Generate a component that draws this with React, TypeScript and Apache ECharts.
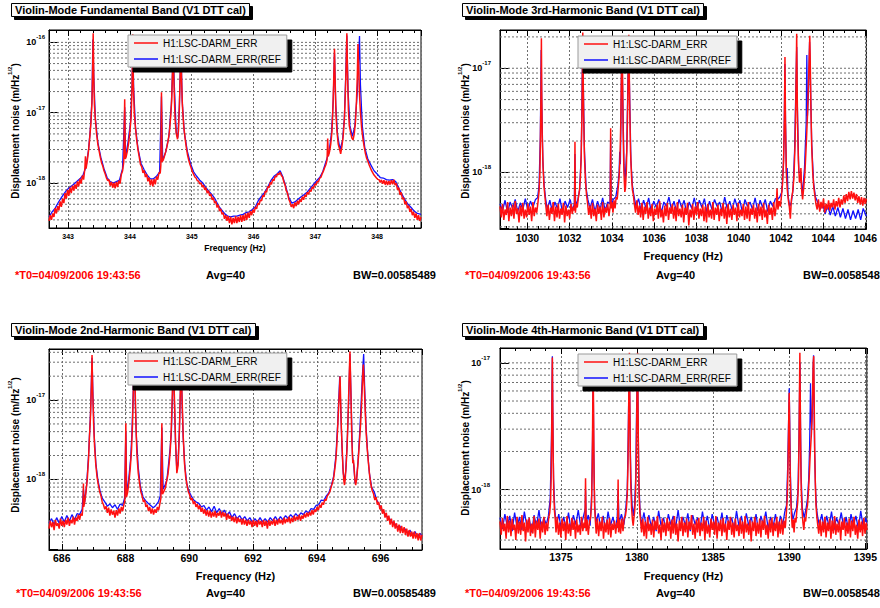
import React, { useEffect, useRef } from 'react';
import * as echarts from 'echarts';

// ---------------- data ----------------
const RED_NAME = 'H1:LSC-DARM_ERR';
const REF_NAME = 'H1:LSC-DARM_ERR(REF0)';

const TITLES = [
  'Violin-Mode Fundamental Band (V1 DTT cal)',
  'Violin-Mode 3rd-Harmonic Band (V1 DTT cal)',
  'Violin-Mode 2nd-Harmonic Band (V1 DTT cal)',
  'Violin-Mode 4th-Harmonic Band (V1 DTT cal)',
];
const X_NAME = 'Frequency (Hz)';
const Y_NAME = 'Displacement noise (m/Hz';
const Y_NAME_EXP = '1/2';
const T0_TEXT = '*T0=04/09/2006 19:43:56';
const AVG_TEXT = 'Avg=40';
const BW_TEXT = 'BW=0.00585489';

const FREQ_RANGES = [[342.69, 348.71], [1028.7, 1046.05], [685.6, 697.3], [1371.0, 1395.1]];
const NOISE_RANGES = [[2.3e-19, 1.5e-16], [2.86e-19, 2.33e-17], [1.29e-19, 4.4e-17], [3.4e-19, 1.31e-17]];
const MAJOR_STEPS = [1, 2, 2, 5];
// spectral values below are given in units of 1e-20 m/Hz^1/2
const VALUE_UNIT = 1e-20;

// Fundamental band (top-left)
const FUND_RED = [
  [342.69,29],[342.71,35],[342.73,30],[342.75,37],[342.77,33],[342.79,44],[342.81,37],[342.83,47],[342.85,41],[342.87,55],[342.89,46],[342.91,60],[342.93,52],[342.95,72],[342.97,60],[342.99,80],[343.01,66],[343.03,86],[343.05,72],[343.07,92],[343.09,78],[343.11,96],[343.13,83],[343.15,106],[343.17,90],[343.19,115],[343.21,98],[343.23,128],[343.25,112],[343.27,160],[343.28,240],[343.29,160],[343.31,210],[343.33,290],[343.35,450],[343.37,750],[343.385,1400],[343.395,3500],[343.405,13500],[343.415,3000],[343.425,1300],[343.44,800],[343.46,500],[343.48,360],[343.50,290],[343.52,235],[343.54,195],[343.56,175],[343.58,150],[343.60,135],[343.62,118],[343.64,108],[343.66,112],[343.68,92],[343.70,104],[343.72,86],[343.74,101],[343.76,84],[343.78,104],[343.80,88],[343.82,108],[343.84,98],[343.86,132],[343.88,148],[343.90,200],[343.915,1550],[343.925,220],[343.94,240],[343.96,290],[343.98,380],[344.00,550],[344.02,900],[344.035,2500],[344.045,13000],[344.055,2500],[344.07,1000],[344.09,600],[344.11,400],[344.13,300],[344.15,235],[344.17,185],[344.19,172],[344.21,140],[344.23,152],[344.25,122],[344.27,134],[344.29,106],[344.31,120],[344.33,93],[344.35,113],[344.37,90],[344.39,114],[344.41,96],[344.43,124],[344.45,112],[344.47,140],[344.49,138],[344.50,180],[344.51,1950],[344.52,200],[344.54,215],[344.56,245],[344.58,280],[344.60,335],[344.62,410],[344.64,550],[344.66,900],[344.675,1500],[344.69,4000],[344.70,8000],[344.71,3000],[344.73,800],[344.75,500],[344.77,420],[344.785,550],[344.80,1200],[344.815,4000],[344.825,10000],[344.835,3000],[344.85,1200],[344.87,650],[344.89,450],[344.91,330],[344.93,255],[344.95,215],[344.97,185],[344.99,165],[345.01,145],[345.03,134],[345.05,122],[345.07,118],[345.09,108],[345.11,107],[345.13,97],[345.15,101],[345.17,88],[345.19,93],[345.21,80],[345.23,86],[345.25,72],[345.27,78],[345.29,66],[345.31,70],[345.33,58],[345.35,62],[345.37,52],[345.39,55],[345.41,45],[345.43,49],[345.45,40],[345.47,43],[345.49,36],[345.51,38],[345.53,31],[345.55,35],[345.57,29],[345.59,34],[345.61,27],[345.63,33],[345.65,26],[345.67,32],[345.69,27],[345.71,34],[345.73,27],[345.75,33],[345.77,28],[345.79,35],[345.81,28],[345.83,35],[345.85,29],[345.87,37],[345.89,30],[345.91,38],[345.93,32],[345.95,40],[345.97,35],[345.99,42],[346.01,38],[346.03,46],[346.05,43],[346.07,52],[346.09,49],[346.11,58],[346.13,56],[346.15,67],[346.17,64],[346.19,77],[346.21,74],[346.23,89],[346.25,86],[346.27,102],[346.29,96],[346.31,113],[346.33,108],[346.35,126],[346.37,122],[346.39,137],[346.41,132],[346.43,143],[346.45,128],[346.47,122],[346.49,104],[346.51,94],[346.53,78],[346.55,72],[346.57,59],[346.59,54],[346.61,46],[346.63,50],[346.65,44],[346.67,53],[346.69,47],[346.71,56],[346.73,50],[346.75,59],[346.77,54],[346.79,64],[346.81,58],[346.83,68],[346.85,64],[346.87,74],[346.89,69],[346.91,80],[346.93,76],[346.95,88],[346.97,84],[346.99,97],[347.01,93],[347.03,106],[347.05,104],[347.07,118],[347.09,121],[347.11,135],[347.13,148],[347.15,165],[347.17,182],[347.19,215],[347.20,430],[347.21,240],[347.23,280],[347.25,360],[347.27,550],[347.285,1200],[347.30,3500],[347.31,8100],[347.32,3000],[347.335,900],[347.35,550],[347.37,360],[347.39,310],[347.41,260],[347.43,330],[347.45,460],[347.47,800],[347.485,1800],[347.50,5000],[347.51,13500],[347.52,4000],[347.535,1100],[347.55,650],[347.57,530],[347.59,440],[347.61,410],[347.63,500],[347.65,750],[347.665,1400],[347.68,3500],[347.69,9500],[347.70,5000],[347.715,1800],[347.73,1000],[347.75,600],[347.77,430],[347.79,330],[347.81,265],[347.83,225],[347.85,205],[347.87,182],[347.89,165],[347.91,150],[347.93,140],[347.95,130],[347.97,124],[347.99,118],[348.01,113],[348.03,112],[348.05,102],[348.07,111],[348.09,98],[348.11,110],[348.13,95],[348.15,108],[348.17,94],[348.19,107],[348.21,95],[348.23,110],[348.25,96],[348.27,112],[348.29,94],[348.31,99],[348.33,80],[348.35,86],[348.37,68],[348.39,74],[348.41,59],[348.43,62],[348.45,50],[348.47,55],[348.49,44],[348.51,48],[348.53,39],[348.55,43],[348.57,35],[348.59,39],[348.61,32],[348.63,37],[348.65,30],[348.67,35],[348.69,29],[348.71,33],
];
const FUND_REF = [
  [342.69,33],[342.74,39],[342.79,44],[342.84,53],[342.89,62],[342.94,72],[342.99,82],[343.04,89],[343.09,96],[343.14,105],[343.19,115],[343.24,130],[343.29,170],[343.33,300],[343.36,600],[343.385,1500],[343.40,11000],[343.415,3200],[343.44,850],[343.48,380],[343.53,230],[343.58,160],[343.63,120],[343.68,105],[343.73,100],[343.78,105],[343.83,110],[343.88,160],[343.915,1200],[343.93,230],[343.97,390],[344.01,750],[344.035,2600],[344.045,12000],[344.06,2200],[344.09,620],[344.13,310],[344.18,190],[344.23,155],[344.28,130],[344.33,115],[344.38,115],[344.43,125],[344.48,145],[344.51,1700],[344.53,210],[344.58,280],[344.63,460],[344.67,1300],[344.70,7500],[344.72,2200],[344.75,520],[344.775,440],[344.80,1300],[344.825,9500],[344.845,1500],[344.88,520],[344.93,280],[344.98,190],[345.03,145],[345.08,125],[345.13,110],[345.18,100],[345.23,86],[345.28,76],[345.33,68],[345.38,59],[345.43,48],[345.48,42],[345.53,37],[345.58,34],[345.63,33],[345.68,34],[345.73,34],[345.78,35],[345.83,36],[345.88,38],[345.93,39],[345.98,42],[346.03,46],[346.08,57],[346.13,65],[346.18,74],[346.23,88],[346.28,108],[346.33,125],[346.38,135],[346.43,150],[346.47,125],[346.52,90],[346.57,63],[346.62,52],[346.67,54],[346.72,59],[346.77,64],[346.82,69],[346.87,75],[346.92,85],[346.97,96],[347.02,108],[347.07,120],[347.12,145],[347.17,200],[347.22,270],[347.26,500],[347.29,1500],[347.31,7000],[347.33,1300],[347.36,480],[347.40,300],[347.44,400],[347.47,850],[347.49,3000],[347.51,12500],[347.53,2000],[347.56,650],[347.60,460],[347.64,650],[347.68,2000],[347.715,12300],[347.73,2500],[347.76,650],[347.80,320],[347.85,220],[347.90,180],[347.95,150],[348.00,135],[348.05,120],[348.10,118],[348.15,112],[348.20,110],[348.25,112],[348.30,105],[348.35,85],[348.40,70],[348.45,58],[348.50,50],[348.55,45],[348.60,40],[348.65,37],[348.71,36],
];

// 3rd harmonic band (top-right)
const H3_RED = [
  [1028.70,47],[1028.76,37],[1028.82,50],[1028.88,35],[1028.94,44],[1029.00,39],[1029.06,52],[1029.12,34],[1029.18,46],[1029.24,38],[1029.30,49],[1029.36,36],[1029.42,53],[1029.48,40],[1029.54,45],[1029.60,33],[1029.66,48],[1029.72,38],[1029.78,51],[1029.84,36],[1029.90,44],[1029.96,37],[1030.02,50],[1030.08,39],[1030.14,47],[1030.20,34],[1030.26,52],[1030.32,38],[1030.38,46],[1030.44,41],
  [1030.50,52],[1030.55,66],[1030.59,100],[1030.62,250],[1030.645,700],[1030.66,1940],[1030.675,600],[1030.70,220],[1030.74,110],[1030.78,75],[1030.83,58],[1030.87,48],
  [1030.92,38],[1030.98,49],[1031.04,35],[1031.10,46],[1031.16,40],[1031.22,52],[1031.28,34],[1031.34,47],[1031.40,37],[1031.46,50],[1031.52,36],[1031.58,45],[1031.64,39],[1031.70,51],[1031.76,33],[1031.82,48],[1031.88,38],[1031.94,44],[1032.00,36],[1032.06,50],[1032.12,40],[1032.18,47],
  [1032.23,43],[1032.25,197],[1032.27,41],[1032.31,50],[1032.36,46],[1032.41,57],[1032.46,66],[1032.50,85],[1032.54,130],[1032.58,350],[1032.605,1000],[1032.62,2200],[1032.635,1000],[1032.66,350],[1032.70,140],[1032.75,80],[1032.80,60],[1032.85,50],
  [1032.90,39],[1032.96,48],[1033.02,36],[1033.08,51],[1033.14,38],[1033.20,45],[1033.26,34],[1033.32,49],[1033.38,40],[1033.44,47],[1033.50,35],[1033.56,52],[1033.62,37],[1033.68,46],[1033.74,41],[1033.80,50],[1033.86,38],
  [1033.92,48],[1033.94,265],[1033.96,45],[1034.00,52],[1034.05,41],[1034.10,54],[1034.15,45],[1034.20,58],[1034.25,55],[1034.30,72],
  [1034.34,90],[1034.38,130],[1034.42,300],[1034.455,1000],[1034.48,2000],[1034.50,900],[1034.53,250],[1034.57,100],[1034.61,65],[1034.64,70],[1034.68,100],[1034.72,220],[1034.76,600],[1034.785,1600],[1034.80,2100],[1034.815,1200],[1034.84,450],[1034.88,160],[1034.93,90],[1034.97,68],[1035.01,62],
  [1035.06,50],[1035.12,41],[1035.18,54],[1035.24,39],[1035.30,48],[1035.36,37],[1035.42,51],[1035.48,35],[1035.54,47],[1035.60,40],[1035.66,52],[1035.72,36],[1035.78,46],[1035.84,38],[1035.90,50],[1035.96,34],[1036.02,45],[1036.08,39],[1036.14,49],[1036.20,36],[1036.26,53],[1036.32,37],[1036.38,44],[1036.44,33],[1036.50,48],[1036.56,38],[1036.62,51],[1036.68,35],[1036.74,46],[1036.80,40],[1036.86,50],[1036.92,36],[1036.98,47],[1037.04,34],[1037.10,52],[1037.16,38],[1037.22,45],[1037.28,37],[1037.34,49],[1037.40,33],[1037.46,46],[1037.52,39],[1037.58,51],[1037.64,31],[1037.70,44],[1037.76,37],[1037.82,50],[1037.88,35],[1037.94,47],[1038.00,39],[1038.06,52],[1038.12,36],[1038.18,45],[1038.24,38],[1038.30,49],[1038.36,34],[1038.42,47],[1038.48,33],[1038.54,50],[1038.60,37],[1038.66,44],[1038.72,36],[1038.78,52],[1038.84,35],[1038.90,46],[1038.96,39],[1039.02,49],[1039.08,34],[1039.14,45],[1039.20,38],[1039.26,51],[1039.32,36],[1039.38,47],[1039.44,32],[1039.50,50],[1039.56,37],[1039.62,45],[1039.68,35],[1039.74,49],[1039.80,39],[1039.86,46],[1039.92,34],[1039.98,51],[1040.04,37],[1040.10,44],[1040.16,38],[1040.22,50],[1040.28,35],[1040.34,47],[1040.40,36],[1040.46,52],[1040.52,34],[1040.58,45],[1040.64,39],[1040.70,49],[1040.76,36],[1040.82,46],[1040.88,33],[1040.94,50],[1041.00,38],[1041.06,47],[1041.12,35],[1041.18,51],[1041.24,37],[1041.30,44],[1041.36,32],[1041.42,49],[1041.48,39],[1041.54,46],[1041.60,35],[1041.66,52],[1041.72,38],[1041.78,47],
  [1041.82,70],[1041.86,44],[1041.92,53],[1041.98,47],[1042.03,60],[1042.08,78],[1042.13,130],[1042.17,350],[1042.195,1280],[1042.22,300],[1042.26,100],[1042.30,70],[1042.35,55],[1042.40,47],[1042.45,36],[1042.50,55],[1042.56,65],[1042.62,90],[1042.67,180],[1042.71,500],[1042.735,1200],[1042.75,2140],[1042.765,900],[1042.79,300],[1042.83,130],[1042.88,80],[1042.93,90],[1042.95,110],[1042.98,70],[1043.03,55],[1043.08,70],[1043.14,100],[1043.20,180],[1043.26,350],[1043.31,750],[1043.35,1400],[1043.37,2050],[1043.39,1200],[1043.42,450],[1043.46,180],[1043.51,100],[1043.56,72],[1043.61,60],
  [1043.66,50],[1043.72,44],[1043.78,55],[1043.84,42],[1043.90,52],[1043.96,45],[1044.02,56],[1044.08,41],[1044.14,50],[1044.20,44],[1044.26,54],[1044.32,43],[1044.38,51],[1044.44,46],[1044.50,55],[1044.56,44],[1044.62,53],[1044.68,47],[1044.74,57],[1044.80,46],[1044.86,55],[1044.92,49],[1044.98,60],[1045.04,51],[1045.10,62],[1045.16,53],[1045.22,65],[1045.28,55],[1045.34,66],[1045.40,56],[1045.46,64],[1045.52,54],[1045.58,62],[1045.64,51],[1045.70,59],[1045.76,49],[1045.82,58],[1045.88,48],[1045.94,57],[1046.00,50],[1046.05,56],
];
const H3_REF = [
  [1028.70,50],[1028.82,43],[1028.94,54],[1029.06,41],[1029.18,52],[1029.30,45],[1029.42,55],[1029.54,42],[1029.66,51],[1029.78,44],[1029.90,56],[1030.02,43],[1030.14,53],[1030.26,46],[1030.38,55],
  [1030.48,57],[1030.55,75],[1030.61,220],[1030.65,1500],[1030.68,450],[1030.73,130],[1030.79,75],[1030.86,56],
  [1030.94,44],[1031.06,54],[1031.18,42],[1031.30,52],[1031.42,45],[1031.54,56],[1031.66,41],[1031.78,53],[1031.90,46],[1032.02,55],[1032.14,43],
  [1032.22,50],[1032.25,150],[1032.28,48],[1032.38,54],[1032.47,68],[1032.55,150],[1032.60,1100],[1032.62,2000],[1032.64,800],[1032.70,160],[1032.78,70],[1032.86,55],
  [1032.96,45],[1033.08,55],[1033.20,42],[1033.32,53],[1033.44,44],[1033.56,57],[1033.68,43],[1033.80,52],
  [1033.91,50],[1033.94,220],[1033.97,47],[1034.06,55],[1034.18,58],[1034.28,75],[1034.34,100],[1034.37,158],[1034.40,120],[1034.43,350],[1034.47,1800],[1034.51,600],[1034.57,120],[1034.62,80],[1034.70,160],[1034.78,1400],[1034.80,1900],[1034.83,700],[1034.90,130],[1034.97,75],[1035.04,60],
  [1035.14,47],[1035.26,56],[1035.38,43],[1035.50,54],[1035.62,45],[1035.74,57],[1035.86,42],[1035.98,53],[1036.10,46],[1036.22,55],[1036.34,41],[1036.46,52],[1036.58,47],[1036.70,58],[1036.82,44],[1036.94,53],[1037.06,42],[1037.18,55],[1037.30,46],[1037.42,54],[1037.54,40],[1037.66,52],[1037.78,45],[1037.90,57],[1038.02,43],[1038.14,54],[1038.26,46],[1038.38,56],[1038.50,41],[1038.62,53],[1038.74,44],[1038.86,55],[1038.98,47],[1039.10,52],[1039.22,42],[1039.34,58],[1039.46,45],[1039.58,53],[1039.70,43],[1039.82,56],[1039.94,46],[1040.06,54],[1040.18,41],[1040.30,55],[1040.42,47],[1040.54,52],[1040.66,44],[1040.78,57],[1040.90,43],[1041.02,54],[1041.14,46],[1041.26,55],[1041.38,42],[1041.50,53],[1041.62,47],[1041.74,56],
  [1041.84,55],[1041.95,58],[1042.05,65],[1042.12,120],[1042.16,250],[1042.19,1100],[1042.22,320],[1042.26,100],[1042.30,110],[1042.34,60],[1042.42,47],[1042.50,52],[1042.58,70],[1042.65,160],[1042.72,800],[1042.75,1600],[1042.78,450],[1042.85,100],[1042.94,100],[1043.02,60],[1043.12,110],[1043.20,300],[1043.23,1340],[1043.26,350],[1043.31,600],[1043.36,1800],[1043.40,800],[1043.46,190],[1043.55,80],[1043.64,58],
  [1043.74,52],[1043.86,44],[1043.98,50],[1044.10,40],[1044.22,48],[1044.34,39],[1044.46,47],[1044.58,38],[1044.70,46],[1044.82,37],[1044.94,45],[1045.06,36],[1045.18,44],[1045.30,35],[1045.42,43],[1045.54,36],[1045.66,44],[1045.78,35],[1045.90,45],[1046.05,38],
];

// 2nd harmonic band (bottom-left)
const H2_RED = [
  [685.60,24],[685.64,30],[685.68,25],[685.72,29],[685.76,23],[685.80,31],[685.84,26],[685.88,28],[685.92,24],[685.96,32],[686.00,26],[686.04,30],[686.08,25],[686.12,31],[686.16,27],[686.20,33],[686.24,26],[686.28,31],[686.32,28],[686.36,34],[686.40,27],[686.44,33],[686.48,30],[686.52,36],[686.56,31],[686.60,37],[686.64,35],
  [686.67,50],[686.68,89],[686.69,45],[686.72,52],[686.76,70],[686.80,100],[686.84,180],[686.87,350],[686.90,600],[686.93,1500],[686.95,3700],[686.97,1300],[687.00,500],[687.03,260],[687.07,150],[687.11,105],[687.15,85],[687.19,70],[687.23,62],[687.27,52],
  [687.31,48],[687.35,42],[687.39,46],[687.43,38],[687.47,44],[687.51,35],[687.55,42],[687.59,36],[687.63,40],[687.67,33],[687.71,41],[687.75,35],[687.79,43],[687.83,37],[687.87,45],[687.91,40],[687.95,48],
  [687.98,55],[688.01,510],[688.03,60],[688.07,70],[688.11,95],[688.15,140],[688.19,240],[688.22,500],[688.25,1500],[688.28,3200],[688.30,1500],[688.33,450],[688.36,200],[688.40,120],[688.44,90],[688.48,70],
  [688.52,62],[688.56,52],[688.60,55],[688.64,45],[688.68,48],[688.72,40],[688.76,45],[688.80,37],[688.84,43],[688.88,36],[688.92,42],[688.96,38],[689.00,45],[689.04,41],[689.08,50],
  [689.11,58],[689.14,510],[689.16,65],[689.20,70],[689.25,78],[689.29,95],[689.33,115],[689.37,160],[689.40,220],[689.43,380],[689.47,1200],[689.50,3500],[689.53,1200],[689.57,300],[689.61,120],[689.65,150],[689.69,400],[689.72,1300],[689.74,3500],[689.77,1200],[689.81,350],[689.85,160],[689.89,105],[689.93,85],[689.97,70],
  [690.01,64],[690.05,55],[690.09,58],[690.13,49],[690.17,53],[690.21,45],[690.25,49],[690.29,42],[690.33,47],[690.37,39],[690.41,44],[690.45,37],[690.49,42],[690.53,35],[690.57,41],[690.61,34],[690.65,40],[690.69,33],[690.73,39],[690.77,34],[690.81,40],[690.85,33],[690.89,38],[690.93,35],[690.97,40],[691.01,33],[691.05,39],[691.09,34],[691.13,38],[691.17,31],[691.21,37],[691.25,32],[691.29,35],[691.33,30],[691.37,34],[691.41,29],[691.45,34],[691.49,28],[691.53,33],[691.57,29],[691.61,32],[691.65,27],[691.69,32],[691.73,27],[691.77,31],[691.81,26],[691.85,31],[691.89,27],[691.93,30],[691.97,25],[692.01,31],[692.05,26],[692.09,30],[692.13,25],[692.17,31],[692.21,27],[692.25,30],[692.29,25],[692.33,31],[692.37,26],[692.41,30],[692.45,24],[692.49,31],[692.53,26],[692.57,30],[692.61,27],[692.65,32],[692.69,26],[692.73,31],[692.77,27],[692.81,32],[692.85,28],[692.89,31],[692.93,27],[692.97,33],[693.01,28],[693.05,32],[693.09,29],[693.13,34],[693.17,28],[693.21,33],[693.25,29],[693.29,35],[693.33,30],[693.37,34],[693.41,31],[693.45,36],[693.49,30],[693.53,35],[693.57,32],[693.61,37],[693.65,33],[693.69,38],[693.73,34],[693.77,39],[693.81,35],[693.85,41],[693.89,36],[693.93,42],[693.97,39],[694.01,45],[694.05,41],[694.09,48],[694.13,44],[694.17,51],[694.21,48],[694.25,56],[694.29,54],
  [694.33,62],[694.37,65],[694.41,70],[694.45,80],[694.49,90],[694.53,105],[694.57,140],[694.60,180],[694.63,280],[694.66,500],[694.69,900],[694.71,1300],[694.73,2000],[694.75,900],[694.77,450],[694.79,280],[694.82,140],[694.85,95],[694.87,85],[694.89,100],[694.92,150],[694.95,250],[694.98,600],[695.01,1600],[695.04,4100],[695.07,1200],[695.10,300],[695.13,160],[695.15,175],[695.17,140],[695.20,95],[695.22,85],[695.25,100],[695.28,140],[695.31,200],[695.35,350],[695.38,550],[695.41,1000],[695.44,2000],[695.46,2800],[695.49,1500],[695.52,700],[695.55,380],[695.58,250],[695.62,160],[695.66,110],[695.70,85],[695.74,72],
  [695.78,66],[695.82,55],[695.86,60],[695.90,48],[695.94,52],[695.98,42],[696.02,47],[696.06,37],[696.10,42],[696.14,33],[696.18,38],[696.22,30],[696.26,35],[696.30,27],[696.34,32],[696.38,25],[696.42,30],[696.46,24],[696.50,28],[696.54,22],[696.58,27],[696.62,21],[696.66,26],[696.70,21],[696.74,25],[696.78,20],[696.82,24],[696.86,19],[696.90,23],[696.94,19],[696.98,22],[697.02,18],[697.06,22],[697.10,18],[697.14,21],[697.18,17],[697.22,21],[697.26,17],[697.30,20],
];
const H2_REF = [
  [685.60,28],[685.68,32],[685.76,27],[685.84,33],[685.92,28],[686.00,34],[686.08,29],[686.16,35],[686.24,30],[686.32,36],[686.40,31],[686.48,37],[686.56,36],[686.64,42],
  [686.68,75],[686.72,52],[686.78,85],[686.84,200],[686.90,650],[686.95,3400],[686.98,1100],[687.02,350],[687.07,160],[687.13,100],[687.20,72],[687.27,58],
  [687.35,52],[687.43,46],[687.51,49],[687.59,44],[687.67,48],[687.75,42],[687.83,49],[687.91,47],[687.97,58],[688.01,400],[688.04,65],
  [688.10,100],[688.16,180],[688.20,380],[688.24,1200],[688.27,3000],[688.30,1200],[688.34,350],[688.40,140],[688.47,80],
  [688.55,60],[688.63,54],[688.71,50],[688.79,47],[688.87,44],[688.95,47],[689.03,52],[689.09,62],[689.14,450],[689.18,75],
  [689.24,85],[689.30,100],[689.36,170],[689.40,250],[689.44,400],[689.47,1100],[689.50,3200],[689.53,1100],[689.57,280],[689.61,130],[689.65,170],[689.69,420],[689.72,1200],[689.74,3200],[689.77,1100],[689.81,330],[689.86,150],[689.92,90],[689.98,72],
  [690.06,62],[690.14,55],[690.22,52],[690.30,50],[690.38,45],[690.46,47],[690.54,41],[690.62,45],[690.70,39],[690.78,46],[690.86,38],[690.94,43],[691.02,37],[691.10,41],[691.18,35],[691.26,39],[691.34,33],[691.42,37],[691.50,32],[691.58,35],[691.66,31],[691.74,34],[691.82,30],[691.90,33],[691.98,29],[692.06,32],[692.14,29],[692.22,33],[692.30,29],[692.38,32],[692.46,29],[692.54,33],[692.62,30],[692.70,34],[692.78,30],[692.86,34],[692.94,31],[693.02,35],[693.10,32],[693.18,36],[693.26,33],[693.34,37],[693.42,34],[693.50,38],[693.58,36],[693.66,40],[693.74,38],[693.82,43],[693.90,42],[693.98,47],[694.06,48],[694.14,55],[694.22,54],[694.30,62],[694.38,68],
  [694.46,85],[694.53,110],[694.60,200],[694.66,550],[694.70,1300],[694.72,2000],[694.75,800],[694.79,260],[694.83,120],[694.87,95],[694.91,130],[694.96,350],[695.00,1000],[695.04,3800],[695.08,900],[695.12,200],[695.16,150],[695.20,90],[695.24,95],[695.29,160],[695.35,420],[695.40,1100],[695.44,2400],[695.47,3800],[695.50,1500],[695.54,500],[695.59,230],[695.65,120],[695.72,80],
  [695.80,70],[695.88,55],[695.96,48],[696.04,42],[696.12,38],[696.20,34],[696.28,32],[696.36,29],[696.44,28],[696.52,25],[696.60,26],[696.68,23],[696.76,24],[696.84,21],[696.92,23],[697.00,20],[697.08,22],[697.16,19],[697.24,21],[697.30,19],
];

// 4th harmonic band (bottom-right)
const H4_RED = [
  [1371.00,56],[1371.08,44],[1371.16,60],[1371.24,47],[1371.32,54],[1371.40,41],[1371.48,62],[1371.56,46],[1371.64,57],[1371.72,43],[1371.80,59],[1371.88,48],[1371.96,53],[1372.04,40],[1372.12,61],[1372.20,45],[1372.28,56],[1372.36,44],[1372.44,63],[1372.52,47],[1372.60,55],[1372.68,39],[1372.76,58],[1372.84,46],[1372.92,60],[1373.00,43],[1373.08,54],[1373.16,45],[1373.24,62],[1373.32,42],[1373.40,57],[1373.48,48],[1373.56,59],[1373.64,41],[1373.72,56],[1373.80,46],[1373.88,61],[1373.96,44],[1374.04,55],[1374.12,47],[1374.20,60],
  [1374.27,66],[1374.32,80],[1374.36,120],[1374.40,300],[1374.42,600],[1374.44,1100],[1374.46,500],[1374.49,200],[1374.53,95],[1374.58,68],[1374.63,58],
  [1374.68,46],[1374.76,61],[1374.84,44],[1374.92,55],[1375.00,42],[1375.08,59],[1375.16,47],[1375.24,56],[1375.32,40],[1375.40,62],[1375.48,45],[1375.56,54],[1375.64,43],[1375.72,60],[1375.80,48],[1375.88,57],[1375.96,41],[1376.04,58],[1376.12,46],[1376.20,53],[1376.28,44],[1376.36,61],[1376.44,47],[1376.52,55],
  [1376.58,50],[1376.62,123],[1376.66,47],[1376.72,58],[1376.80,44],[1376.88,56],[1376.95,60],[1377.01,75],[1377.06,150],[1377.09,400],[1377.12,1000],[1377.15,350],[1377.18,130],[1377.22,72],[1377.27,56],
  [1377.32,45],[1377.40,59],[1377.48,43],[1377.56,56],[1377.64,47],[1377.72,61],[1377.80,41],[1377.88,55],[1377.96,46],[1378.04,58],[1378.12,44],[1378.20,60],[1378.28,42],[1378.36,54],[1378.44,48],[1378.52,57],[1378.60,45],[1378.68,55],
  [1378.73,50],[1378.76,120],[1378.79,46],[1378.84,58],[1378.92,45],[1379.00,59],[1379.08,47],[1379.16,60],[1379.24,62],[1379.30,70],[1379.36,90],[1379.41,160],[1379.45,400],[1379.48,900],[1379.50,1200],[1379.53,450],[1379.56,180],[1379.60,100],[1379.65,70],[1379.70,58],[1379.75,52],[1379.80,60],[1379.85,68],[1379.90,90],[1379.95,160],[1379.99,450],[1380.02,900],[1380.04,1200],[1380.07,400],[1380.10,170],[1380.14,90],[1380.19,65],[1380.24,56],
  [1380.30,46],[1380.38,59],[1380.46,43],[1380.54,56],[1380.62,41],[1380.70,61],[1380.78,47],[1380.86,54],[1380.94,44],[1381.02,58],[1381.10,42],[1381.18,57],[1381.26,48],[1381.34,62],[1381.42,45],[1381.50,53],[1381.58,40],[1381.66,59],[1381.74,46],[1381.82,55],[1381.90,43],[1381.98,60],[1382.06,47],[1382.14,56],[1382.22,41],[1382.30,58],[1382.38,45],[1382.46,62],[1382.54,44],[1382.62,54],[1382.70,39],[1382.78,57],[1382.86,47],[1382.94,61],[1383.02,43],[1383.10,55],[1383.18,46],[1383.26,59],[1383.34,42],[1383.42,56],[1383.50,48],[1383.58,63],[1383.66,44],[1383.74,54],[1383.82,41],[1383.90,58],[1383.98,46],[1384.06,60],[1384.14,43],[1384.22,55],[1384.30,47],[1384.38,61],[1384.46,40],[1384.54,57],[1384.62,45],[1384.70,53],[1384.78,42],[1384.86,59],[1384.94,48],[1385.02,56],[1385.10,44],[1385.18,62],[1385.26,41],[1385.34,55],[1385.42,47],[1385.50,58],[1385.58,43],[1385.66,60],[1385.74,46],[1385.82,54],[1385.90,40],[1385.98,57],[1386.06,48],[1386.14,61],[1386.22,44],[1386.30,55],[1386.38,42],[1386.46,59],[1386.54,47],[1386.62,53],[1386.70,43],[1386.78,60],[1386.86,45],[1386.94,56],[1387.02,41],[1387.10,62],[1387.18,46],[1387.26,54],[1387.34,44],[1387.42,58],[1387.50,39],[1387.58,56],[1387.66,47],[1387.74,61],[1387.82,43],[1387.90,55],[1387.98,45],[1388.06,59],[1388.14,42],[1388.22,57],[1388.30,48],[1388.38,62],[1388.46,44],[1388.54,53],[1388.62,41],[1388.70,58],[1388.78,46],[1388.86,60],[1388.94,43],[1389.02,55],[1389.10,47],[1389.18,61],[1389.26,42],[1389.34,56],[1389.42,45],[1389.50,59],[1389.58,44],[1389.66,57],[1389.74,50],
  [1389.80,62],[1389.86,80],[1389.91,130],[1389.95,250],[1389.98,450],[1390.00,580],[1390.02,350],[1390.05,170],[1390.09,95],[1390.14,65],[1390.20,50],[1390.26,58],[1390.32,46],[1390.38,60],[1390.44,55],[1390.50,68],[1390.56,80],[1390.61,120],[1390.65,280],[1390.68,700],[1390.70,1200],[1390.72,600],[1390.75,220],[1390.79,100],[1390.84,70],[1390.90,55],[1390.96,48],[1391.02,60],[1391.08,56],[1391.14,68],[1391.20,75],[1391.26,95],[1391.32,130],[1391.37,180],[1391.42,230],[1391.46,280],[1391.50,380],[1391.54,600],[1391.58,1000],[1391.61,1130],[1391.64,500],[1391.67,220],[1391.71,120],[1391.76,75],[1391.82,60],[1391.88,52],
  [1391.94,45],[1392.02,58],[1392.10,43],[1392.18,56],[1392.26,46],[1392.34,61],[1392.42,42],[1392.50,55],[1392.58,47],[1392.66,59],[1392.74,41],[1392.82,57],[1392.90,45],[1392.98,62],[1393.06,44],[1393.14,54],[1393.22,46],[1393.30,58],[1393.38,40],[1393.46,56],[1393.54,48],[1393.62,60],[1393.70,43],[1393.78,55],[1393.86,45],[1393.94,59],[1394.02,42],[1394.10,57],[1394.18,47],[1394.26,61],[1394.34,44],[1394.42,53],[1394.50,41],[1394.58,58],[1394.66,46],[1394.74,56],[1394.82,43],[1394.90,60],[1394.98,45],[1395.06,55],[1395.10,48],
];
const H4_REF = [
  [1371.00,60],[1371.16,49],[1371.32,64],[1371.48,51],[1371.64,62],[1371.80,47],[1371.96,66],[1372.12,50],[1372.28,61],[1372.44,48],[1372.60,67],[1372.76,52],[1372.92,59],[1373.08,46],[1373.24,63],[1373.40,51],[1373.56,69],[1373.72,49],[1373.88,60],[1374.04,53],[1374.18,62],
  [1374.30,85],[1374.38,250],[1374.42,700],[1374.44,1130],[1374.47,400],[1374.52,120],[1374.60,70],
  [1374.70,52],[1374.86,64],[1375.02,49],[1375.18,61],[1375.34,50],[1375.50,66],[1375.66,48],[1375.82,63],[1375.98,53],[1376.14,69],[1376.30,51],[1376.46,60],[1376.60,70],[1376.62,100],[1376.66,55],[1376.80,63],[1376.92,52],
  [1377.02,90],[1377.08,250],[1377.12,900],[1377.16,200],[1377.22,75],
  [1377.30,55],[1377.46,65],[1377.62,50],[1377.78,62],[1377.94,48],[1378.10,67],[1378.26,52],[1378.42,61],[1378.58,49],[1378.70,60],[1378.76,100],[1378.82,55],[1378.98,64],[1379.14,53],
  [1379.26,70],[1379.36,100],[1379.42,250],[1379.47,700],[1379.50,1100],[1379.54,300],[1379.60,120],[1379.68,75],[1379.76,62],[1379.84,75],[1379.92,130],[1379.97,400],[1380.01,800],[1380.04,1100],[1380.08,300],[1380.13,110],[1380.20,68],
  [1380.30,53],[1380.46,66],[1380.62,49],[1380.78,63],[1380.94,51],[1381.10,61],[1381.26,47],[1381.42,68],[1381.58,52],[1381.74,60],[1381.90,48],[1382.06,64],[1382.22,53],[1382.38,62],[1382.54,50],[1382.70,69],[1382.86,49],[1383.02,61],[1383.18,52],[1383.34,65],[1383.50,47],[1383.66,63],[1383.82,53],[1383.98,60],[1384.14,49],[1384.30,67],[1384.46,51],[1384.62,62],[1384.78,48],[1384.94,64],[1385.10,52],[1385.26,61],[1385.42,50],[1385.58,66],[1385.74,47],[1385.90,63],[1386.06,53],[1386.22,60],[1386.38,49],[1386.54,68],[1386.70,51],[1386.86,62],[1387.02,48],[1387.18,65],[1387.34,52],[1387.50,61],[1387.66,50],[1387.82,64],[1387.98,47],[1388.14,62],[1388.30,53],[1388.46,67],[1388.62,49],[1388.78,61],[1388.94,51],[1389.10,64],[1389.26,48],[1389.42,62],[1389.58,53],[1389.70,66],
  [1389.82,75],[1389.90,150],[1389.96,350],[1390.00,630],[1390.04,300],[1390.08,130],[1390.14,72],[1390.24,58],[1390.36,66],[1390.48,72],[1390.58,100],[1390.64,250],[1390.68,600],[1390.71,1000],[1390.74,350],[1390.78,130],[1390.86,72],[1390.98,60],[1391.10,70],[1391.20,85],[1391.28,120],[1391.34,220],[1391.38,450],[1391.40,690],[1391.43,400],[1391.47,300],[1391.52,420],[1391.57,900],[1391.60,1150],[1391.63,500],[1391.67,200],[1391.73,100],[1391.80,70],[1391.88,60],
  [1391.98,52],[1392.14,64],[1392.30,49],[1392.46,62],[1392.62,51],[1392.78,67],[1392.94,48],[1393.10,60],[1393.26,53],[1393.42,66],[1393.58,50],[1393.74,61],[1393.90,47],[1394.06,64],[1394.22,52],[1394.38,62],[1394.54,49],[1394.70,68],[1394.86,51],[1395.02,60],[1395.10,54],
];

const SERIES_DATA = [
  { red: FUND_RED, ref: FUND_REF },
  { red: H3_RED, ref: H3_REF },
  { red: H2_RED, ref: H2_REF },
  { red: H4_RED, ref: H4_REF },
];

// ---------------- layout & style ----------------
const FONT = '"Liberation Sans", Arial, Helvetica, sans-serif';
const PANELS = [
  { grid: { left: 49, top: 30, width: 372, height: 198 }, title: { left: 11, top: 3 }, legend: { left: 128, top: 35 },
    yName: { x: 15, y: 131 }, info: { y: 275, x: [15, 206, 353] }, tickFont: 7, nameFont: 8.5, nameGap: 15, labelMargin: 5, yMargin: 4, minorSplit: 5, splitNumber: 6 },
  { grid: { left: 500, top: 30, width: 372, height: 199 }, title: { left: 462, top: 3 }, legend: { left: 578, top: 36 },
    yName: { x: 465, y: 131 }, info: { y: 275, x: [465, 656, 803] }, tickFont: 10.5, nameFont: 11, nameGap: 21, labelMargin: 3, yMargin: 9, minorSplit: 4, splitNumber: 8 },
  { grid: { left: 49, top: 349, width: 373, height: 201 }, title: { left: 11, top: 323 }, legend: { left: 128, top: 353 },
    yName: { x: 15, y: 445 }, info: { y: 593, x: [16, 206, 353] }, tickFont: 10.5, nameFont: 11, nameGap: 20, labelMargin: 2, yMargin: 4, minorSplit: 4, splitNumber: 6 },
  { grid: { left: 500, top: 348, width: 372, height: 201 }, title: { left: 462, top: 323 }, legend: { left: 578, top: 354 },
    yName: { x: 465, y: 448 }, info: { y: 593, x: [465, 656, 803] }, tickFont: 10.5, nameFont: 11, nameGap: 21, labelMargin: 2, yMargin: 10, minorSplit: 5, splitNumber: 5 },
];

const GRID_COLOR = '#6e6e6e';
const GRID_DASH = [2, 2];

function gridLineValues(min: number, max: number) {
  const out: number[] = [];
  for (let d = Math.floor(Math.log10(min)); d <= Math.ceil(Math.log10(max)); d++) {
    for (let k = 1; k <= 9; k++) {
      const v = k * Math.pow(10, d);
      if (v > min * 1.001 && v < max * 0.999) out.push(v);
    }
  }
  return out;
}

const scaled = (arr: number[][]) => arr.map(([f, v]) => [f, v * VALUE_UNIT]);

function buildOption() {
  const grid: any[] = [];
  const xAxis: any[] = [];
  const yAxis: any[] = [];
  const series: any[] = [];
  const title: any[] = [];
  const legend: any[] = [];
  const elements: any[] = [];

  PANELS.forEach((p, i) => {
    const [fmin, fmax] = FREQ_RANGES[i];
    const [nmin, nmax] = NOISE_RANGES[i];
    const step = MAJOR_STEPS[i];
    grid.push({ ...p.grid, show: true, borderColor: '#000', borderWidth: 1, backgroundColor: 'transparent' });

    const xLabel = (v: number) => {
      const r = Math.round(v);
      return Math.abs(v - r) < 1e-6 && r % step === 0 ? String(r) : '';
    };
    xAxis.push({
      type: 'value', gridIndex: i, position: 'bottom', min: fmin, max: fmax, splitNumber: p.splitNumber,
      name: X_NAME, nameLocation: 'middle', nameGap: p.nameGap,
      nameTextStyle: { fontSize: p.nameFont, fontWeight: 'bold', fontFamily: FONT, color: '#000' },
      axisLine: { show: true, lineStyle: { color: '#000', width: 1 } },
      axisTick: { show: true, inside: true, length: 6, lineStyle: { color: '#000' } },
      minorTick: { show: true, splitNumber: p.minorSplit, length: 3, lineStyle: { color: '#000' } },
      splitLine: { show: true, lineStyle: { color: GRID_COLOR, width: 1, type: GRID_DASH } },
      axisLabel: { formatter: xLabel, fontSize: p.tickFont, fontWeight: 'bold', fontFamily: FONT, color: '#000', margin: p.labelMargin },
    });
    xAxis.push({
      type: 'value', gridIndex: i, position: 'top', min: fmin, max: fmax, splitNumber: p.splitNumber,
      axisLine: { show: true, lineStyle: { color: '#000', width: 1 } },
      axisTick: { show: true, inside: true, length: 6, lineStyle: { color: '#000' } },
      minorTick: { show: true, splitNumber: p.minorSplit, length: 3, lineStyle: { color: '#000' } },
      splitLine: { show: false },
      axisLabel: { show: false },
    });
    const yLabel = (v: number) => {
      const e = Math.log10(v);
      const r = Math.round(e);
      return Math.abs(e - r) < 1e-6 ? `{b|10}{s|${r}}` : '';
    };
    yAxis.push({
      type: 'log', logBase: 10, gridIndex: i, min: nmin, max: nmax,
      axisLine: { show: true, lineStyle: { color: '#000', width: 1 } },
      axisTick: { show: true, inside: true, length: 9, lineStyle: { color: '#000' } },
      splitLine: { show: false },
      axisLabel: {
        formatter: yLabel, margin: p.yMargin, color: '#000',
        rich: {
          b: { fontSize: 9, fontWeight: 'bold', fontFamily: FONT, color: '#000', lineHeight: 16 },
          s: { fontSize: 6, fontWeight: 'bold', fontFamily: FONT, color: '#000', verticalAlign: 'top' },
        },
      },
    });

    // horizontal dotted grid lines at 1..9 x 10^n, placed through the log axis
    series.push({
      type: 'custom', xAxisIndex: 2 * i, yAxisIndex: i, silent: true, z: 1, clip: true,
      data: gridLineValues(nmin, nmax).map((v) => [fmin, v]),
      encode: { x: 0, y: 1 },
      renderItem: (_params: any, api: any) => {
        const v = api.value(1);
        const a = api.coord([fmin, v]);
        const b = api.coord([fmax, v]);
        return {
          type: 'line',
          shape: { x1: a[0], y1: a[1], x2: b[0], y2: b[1] },
          style: { stroke: GRID_COLOR, lineWidth: 1, lineDash: GRID_DASH },
        };
      },
    });
    series.push({
      name: REF_NAME, type: 'line', xAxisIndex: 2 * i, yAxisIndex: i,
      data: scaled(SERIES_DATA[i].ref), showSymbol: false, symbol: 'none', silent: true,
      color: '#1010ff', lineStyle: { color: '#1010ff', width: 1.3 }, z: 2,
    });
    series.push({
      name: RED_NAME, type: 'line', xAxisIndex: 2 * i, yAxisIndex: i,
      data: scaled(SERIES_DATA[i].red), showSymbol: false, symbol: 'none', silent: true,
      color: '#ff1010', lineStyle: { color: '#ff1010', width: 1.5 }, z: 3,
    });

    title.push({
      text: TITLES[i], left: p.title.left, top: p.title.top, padding: [1, 4, 1, 4],
      backgroundColor: '#fbfbfb', borderColor: '#000', borderWidth: 1,
      shadowColor: '#000', shadowOffsetX: 3, shadowOffsetY: 3, shadowBlur: 0,
      textStyle: { fontSize: 11, fontWeight: 'bold', fontFamily: FONT, color: '#000', lineHeight: 12 },
    });

    legend.push({
      left: p.legend.left, top: p.legend.top, orient: 'vertical', data: [RED_NAME, REF_NAME],
      icon: 'rect', itemWidth: 24, itemHeight: 1.5, itemGap: 6, padding: [3, 6, 3, 6],
      backgroundColor: '#f0f0f0', borderColor: '#9a9a9a', borderWidth: 1,
      shadowColor: '#000', shadowOffsetX: 5, shadowOffsetY: 5, shadowBlur: 0,
      selectedMode: false,
      textStyle: { fontSize: 10, fontFamily: FONT, color: '#000', width: 121, overflow: 'truncate', ellipsis: '' },
    });

    elements.push({
      type: 'text', x: p.yName.x, y: p.yName.y, rotation: Math.PI / 2, silent: true,
      style: {
        text: `{n|${Y_NAME}}{s|${Y_NAME_EXP}}{n|)}`, align: 'center', verticalAlign: 'middle',
        rich: {
          n: { fontSize: 10, fontWeight: 'bold', fontFamily: FONT, fill: '#000', lineHeight: 16 },
          s: { fontSize: 6, fontWeight: 'bold', fontFamily: FONT, fill: '#000', verticalAlign: 'top' },
        },
      },
    });
    const infoTexts = [T0_TEXT, AVG_TEXT, BW_TEXT];
    infoTexts.forEach((t, k) => {
      elements.push({
        type: 'text', x: p.info.x[k], y: p.info.y, silent: true,
        style: {
          text: t, fill: k === 0 ? '#ff0000' : '#000', fontSize: 11, fontWeight: 'bold', fontFamily: FONT,
          align: 'left', verticalAlign: 'middle',
        },
      });
    });
  });

  return {
    animation: false,
    backgroundColor: '#ffffff',
    grid, xAxis, yAxis, series, title, legend,
    graphic: { elements },
  };
}

export default function App() {
  const ref = useRef<HTMLDivElement>(null);
  useEffect(() => {
    document.body.style.margin = '0';
    if (!ref.current) return;
    const chart = echarts.init(ref.current, undefined, { renderer: 'svg' });
    chart.setOption(buildOption() as any);
    return () => chart.dispose();
  }, []);
  return <div ref={ref} style={{ width: 880, height: 608, position: 'absolute', left: 0, top: 0 }} />;
}
